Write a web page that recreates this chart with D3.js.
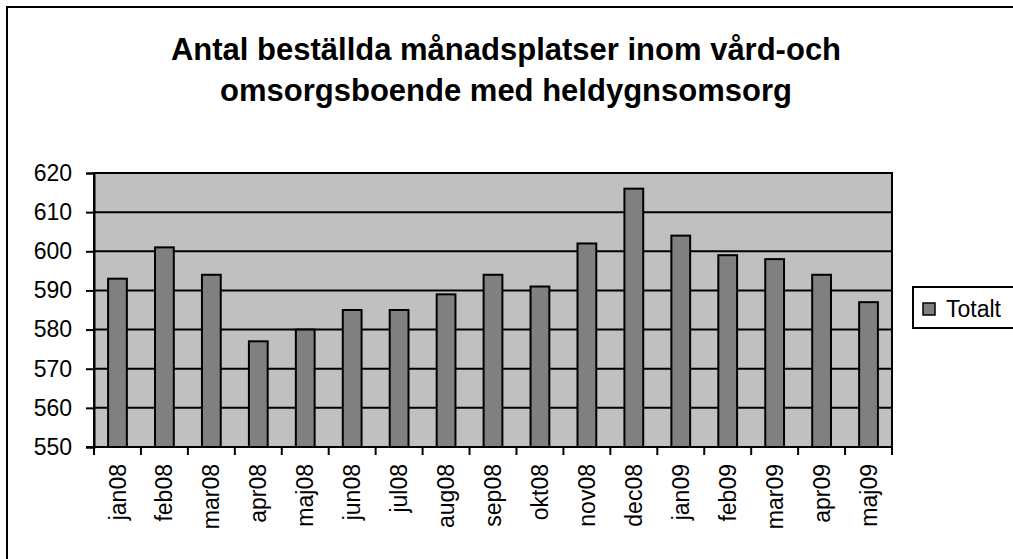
<!DOCTYPE html>
<meta charset="utf-8">
<style>
body { margin: 0; background: #fff; }
text { font-family: Arial, "Liberation Sans", sans-serif; fill: #000; }
.title { font-size: 31px; font-weight: bold; }
.tick-label { font-size: 23px; }
.grid { stroke: #000; stroke-width: 2px; }
.bar { fill: #808080; stroke: #000; stroke-width: 2px; }
</style>
<body>
<script src="https://cdn.jsdelivr.net/npm/d3@7"></script>
<script>

// chart data
var months = ["jan08", "feb08", "mar08", "apr08", "maj08", "jun08", "jul08", "aug08", "sep08",
              "okt08", "nov08", "dec08", "jan09", "feb09", "mar09", "apr09", "maj09"];
var totalt = [593, 601, 594, 577, 580, 585, 585, 589, 594, 591, 602, 616, 604, 599, 598, 594, 587];
var yTicks = [550, 560, 570, 580, 590, 600, 610, 620];
var titleLines = ["Antal beställda månadsplatser inom vård-och", "omsorgsboende med heldygnsomsorg"];
var seriesName = "Totalt";

var width = 1013, height = 559;
var plot = {left: 94, right: 892, top: 173, bottom: 447};

var svg = d3.select("body").append("svg")
    .attr("width", width)
    .attr("height", height);

// chart frame (runs off the right and bottom edge)
svg.append("rect")
    .attr("x", 7).attr("y", 7)
    .attr("width", 1200).attr("height", 700)
    .attr("fill", "#fff")
    .attr("stroke", "#000")
    .attr("stroke-width", 2);

// title
svg.selectAll(".title")
    .data(titleLines)
  .enter().append("text")
    .attr("class", "title")
    .attr("x", 506)
    .attr("y", function(d, i) { return 60 + i * 41; })
    .attr("text-anchor", "middle")
    .text(function(d) { return d; });

// scales
var x = d3.scaleBand()
    .domain(months)
    .range([plot.left, plot.right])
    .paddingInner(0.6)
    .paddingOuter(0.3);

var y = d3.scaleLinear()
    .domain([550, 620])
    .range([plot.bottom, plot.top]);

// plot background
svg.append("rect")
    .attr("x", plot.left).attr("y", plot.top)
    .attr("width", plot.right - plot.left)
    .attr("height", plot.bottom - plot.top)
    .attr("fill", "#c0c0c0")
    .attr("stroke", "#000")
    .attr("stroke-width", 2);

// gridlines
svg.selectAll(".grid")
    .data(yTicks)
  .enter().append("line")
    .attr("class", "grid")
    .attr("x1", plot.left).attr("x2", plot.right)
    .attr("y1", function(d) { return y(d); })
    .attr("y2", function(d) { return y(d); });

// bars
svg.selectAll(".bar")
    .data(totalt)
  .enter().append("rect")
    .attr("class", "bar")
    .attr("x", function(d, i) { return x(months[i]); })
    .attr("width", x.bandwidth())
    .attr("y", function(d) { return y(d); })
    .attr("height", function(d) { return y(550) - y(d); });

// y axis
var yAxis = svg.append("g")
    .attr("transform", "translate(" + plot.left + ",0)")
    .call(d3.axisLeft(y).tickValues(yTicks).tickSize(8).tickPadding(14));
yAxis.select(".domain").attr("stroke", "#000").attr("stroke-width", 2);
yAxis.selectAll(".tick line").attr("stroke", "#000").attr("stroke-width", 2);
yAxis.selectAll(".tick text")
    .attr("class", "tick-label")
    .attr("font-size", null)
    .attr("font-family", null);
yAxis.attr("font-size", null).attr("font-family", null);

// x axis: ticks sit between the categories
var step = x.step();
var xTickPos = d3.range(months.length + 1).map(function(i) { return plot.left + i * step; });

svg.append("line")
    .attr("x1", plot.left - 8).attr("x2", plot.right)
    .attr("y1", plot.bottom).attr("y2", plot.bottom)
    .attr("stroke", "#000").attr("stroke-width", 2);

svg.selectAll(".xtick")
    .data(xTickPos)
  .enter().append("line")
    .attr("class", "xtick")
    .attr("x1", function(d) { return d; }).attr("x2", function(d) { return d; })
    .attr("y1", plot.bottom).attr("y2", plot.bottom + 8)
    .attr("stroke", "#000").attr("stroke-width", 2);

svg.selectAll(".xlabel")
    .data(months)
  .enter().append("text")
    .attr("class", "tick-label")
    .attr("transform", function(d) {
      return "translate(" + (x(d) + x.bandwidth() / 2) + "," + (plot.bottom + 17) + ") rotate(-90)";
    })
    .attr("dy", "0.35em")
    .attr("text-anchor", "end")
    .text(function(d) { return d; });

// legend
var legend = svg.append("g").attr("transform", "translate(913,287)");
legend.append("rect")
    .attr("width", 200).attr("height", 41)
    .attr("fill", "#fff")
    .attr("stroke", "#000").attr("stroke-width", 2);
legend.append("rect")
    .attr("x", 10).attr("y", 16)
    .attr("width", 12).attr("height", 12)
    .attr("fill", "#808080")
    .attr("stroke", "#000").attr("stroke-width", 1.5);
legend.append("text")
    .attr("class", "tick-label")
    .attr("x", 33).attr("y", 30)
    .text(seriesName);

</script>
</body>
